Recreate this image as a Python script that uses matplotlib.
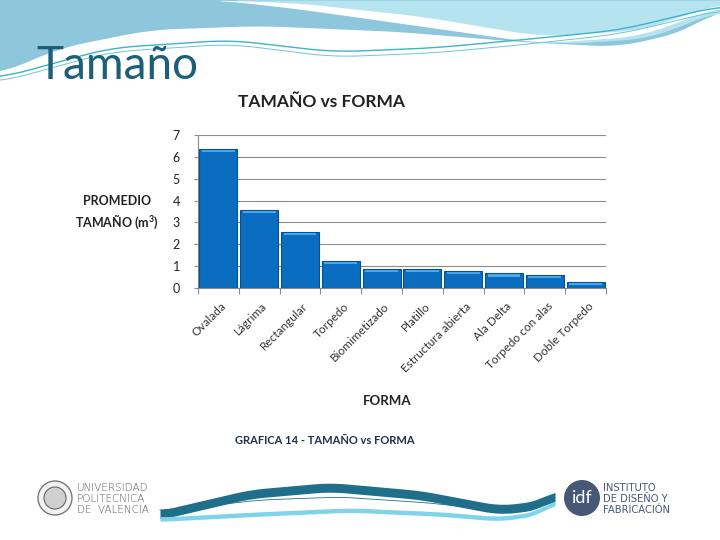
import matplotlib.pyplot as plt
import numpy as np
from matplotlib.patches import Circle

plt.rcParams['font.family'] = ['Lato', 'DejaVu Sans']

categorias = ["Ovalada", "Lágrima", "Rectangular", "Torpedo", "Biomimetizado",
              "Platillo", "Estructura abierta", "Ala Delta", "Torpedo con alas", "Doble Torpedo"]
tamano = [6.35, 3.58, 2.57, 1.25, 0.88, 0.88, 0.79, 0.67, 0.61, 0.29]
yticks = [0, 1, 2, 3, 4, 5, 6, 7]

W, H = 720, 540
fig = plt.figure(figsize=(7.2, 5.4), dpi=100)


def smooth(xp, yp, xs, k=15):
    y = np.interp(xs, xp, yp)
    pad = np.pad(y, k, mode='edge')
    ker = np.ones(2 * k + 1) / (2 * k + 1)
    return np.convolve(pad, ker, mode='valid')


# ---- decorative slide background ----
bg = fig.add_axes([0, 0, 1, 1], zorder=0)
bg.set_xlim(0, W)
bg.set_ylim(H, 0)
bg.axis('off')

xs = np.linspace(0, W, 400)
bottom_edge = smooth([0, 60, 150, 260, 400, 520, 620, 690, 720],
                     [74, 48, 30, 26, 32, 42, 47, 30, 8], xs)
bg.fill_between(xs, 0, bottom_edge, color='#8ec7db', lw=0, zorder=0)
light_edge = smooth([230, 330, 450, 560, 650, 720], [0, 10, 28, 44, 38, 10], xs)
m = xs >= 235
bg.fill_between(xs[m], 0, light_edge[m], color='#b5e4ef', lw=0, zorder=1)
sw_top = smooth([220, 300, 420, 540, 640, 720], [0, 3, 16, 36, 30, 3], xs)
sw_bot = smooth([220, 300, 420, 540, 640, 720], [0, 9, 26, 43, 36, 6], xs)
m2 = xs >= 220
bg.fill_between(xs[m2], sw_top[m2], sw_bot[m2], color='white', lw=0, zorder=2)
w1 = smooth([0, 110, 230, 333, 433, 520, 620, 720], [78, 48, 40, 52, 48, 40, 30, 6], xs)
bg.plot(xs, w1, color='#3fb3c9', lw=1.0, zorder=3)
w2 = smooth([0, 110, 230, 333, 433, 520, 620, 720], [82, 52, 44, 57, 53, 45, 34, 10], xs)
bg.plot(xs, w2, color='#6cc6d8', lw=0.7, zorder=3)

# bottom wave
bx = np.linspace(160, 555, 300)
dark_c = smooth([160, 250, 330, 420, 500, 540, 555], [515, 494, 487, 495, 510, 505, 494], bx, k=12)
bg.fill_between(bx, dark_c - 4.5, dark_c + 4.5, color='#1f6f8b', lw=0, zorder=2)
light_c = smooth([165, 260, 350, 440, 500, 540, 555], [519, 514, 510, 514, 519, 513, 500], bx, k=12)
bg.fill_between(bx, light_c - 2.2, light_c + 2.2, color='#7fd3ea', lw=0, zorder=2)
thin = smooth([170, 260, 340, 430, 510, 550], [510, 500, 497, 503, 512, 497], bx, k=12)
bg.plot(bx, thin, color='#1f6f8b', lw=0.6, zorder=2)

# logos
bg.add_patch(Circle((55, 498), 17, facecolor='#f2f2f2', edgecolor='#777777', lw=1, zorder=3))
bg.add_patch(Circle((55, 498), 11, facecolor='#d0d0d0', edgecolor='#666666', lw=0.8, zorder=3))
for i, t in enumerate(["UNIVERSIDAD", "POLITECNICA", "DE  VALENCIA"]):
    bg.text(77, 488 + i * 11, t, fontsize=7.5, color='#555555', va='center', ha='left',
            family='DejaVu Sans', fontweight='light')
bg.add_patch(Circle((582, 498), 18, facecolor='#475876', edgecolor='none', zorder=3))
bg.text(582, 498, "idf", fontsize=13, color='white', ha='center', va='center', zorder=4)
for i, t in enumerate(["INSTITUTO", "DE DISEÑO Y", "FABRICACIÓN"]):
    bg.text(603, 488 + i * 11, t, fontsize=7.2, color='#475876', va='center', ha='left',
            family='DejaVu Sans')

# slide title
bg.text(36, 66, "Tamaño", fontsize=33, color='#1b5f78', ha='left', va='center', zorder=5)

# ---- chart ----
ax = fig.add_axes([198 / W, 1 - 288 / H, (606 - 198) / W, (288 - 135) / H], zorder=2)
ax.patch.set_alpha(0)
x = np.arange(len(categorias))
ax.bar(x, tamano, width=0.93, color='#0b6dc0', edgecolor='#0a4f8c', linewidth=0.8, zorder=3)
hl = [max(v - 0.15, 0) for v in tamano]
ax.bar(x, [0.1] * len(x), bottom=hl, width=0.8, color='#48a6ec', linewidth=0, zorder=4)

ax.set_xlim(-0.5, len(categorias) - 0.5)
ax.set_ylim(0, 7)
ax.set_yticks(yticks)
ax.set_yticklabels([str(v) for v in yticks], fontsize=9, color='#222222')
ax.yaxis.grid(True, color='#8c8c8c', lw=0.8, zorder=0)
ax.set_axisbelow(True)
for s in ['top', 'right']:
    ax.spines[s].set_visible(False)
ax.spines['left'].set_color('#8c8c8c')
ax.spines['bottom'].set_color('#8c8c8c')
ax.tick_params(axis='y', length=3, color='#8c8c8c', pad=10)
ax.set_xticks(np.arange(-0.5, len(categorias)))
ax.set_xticklabels([])
ax.tick_params(axis='x', length=4, color='#8c8c8c')
for i, c in enumerate(categorias):
    ax.annotate(c, (i, 0), xytext=(1.5, -9), textcoords='offset points', rotation=45,
                ha='right', va='top', rotation_mode='anchor', fontsize=8.5, color='#333333',
                annotation_clip=False)

fig.text(322 / W, 1 - 102 / H, "TAMAÑO vs FORMA", fontsize=12.5, fontweight='bold',
         ha='center', va='center', color='#222222')
fig.text(117 / W, 1 - 213 / H, "PROMEDIO\nTAMAÑO (m$^\\mathregular{3}$)", fontsize=9,
         fontweight='bold', ha='center', va='center', color='#222222', linespacing=1.35)
fig.text(387 / W, 1 - 401 / H, "FORMA", fontsize=9.5, fontweight='bold',
         ha='center', va='center', color='#222222')
fig.text(325 / W, 1 - 440 / H, "GRAFICA 14 - TAMAÑO vs FORMA", fontsize=8, fontweight='bold',
         ha='center', va='center', color='#1f2f4f')

fig.savefig('out.png', dpi=100)
